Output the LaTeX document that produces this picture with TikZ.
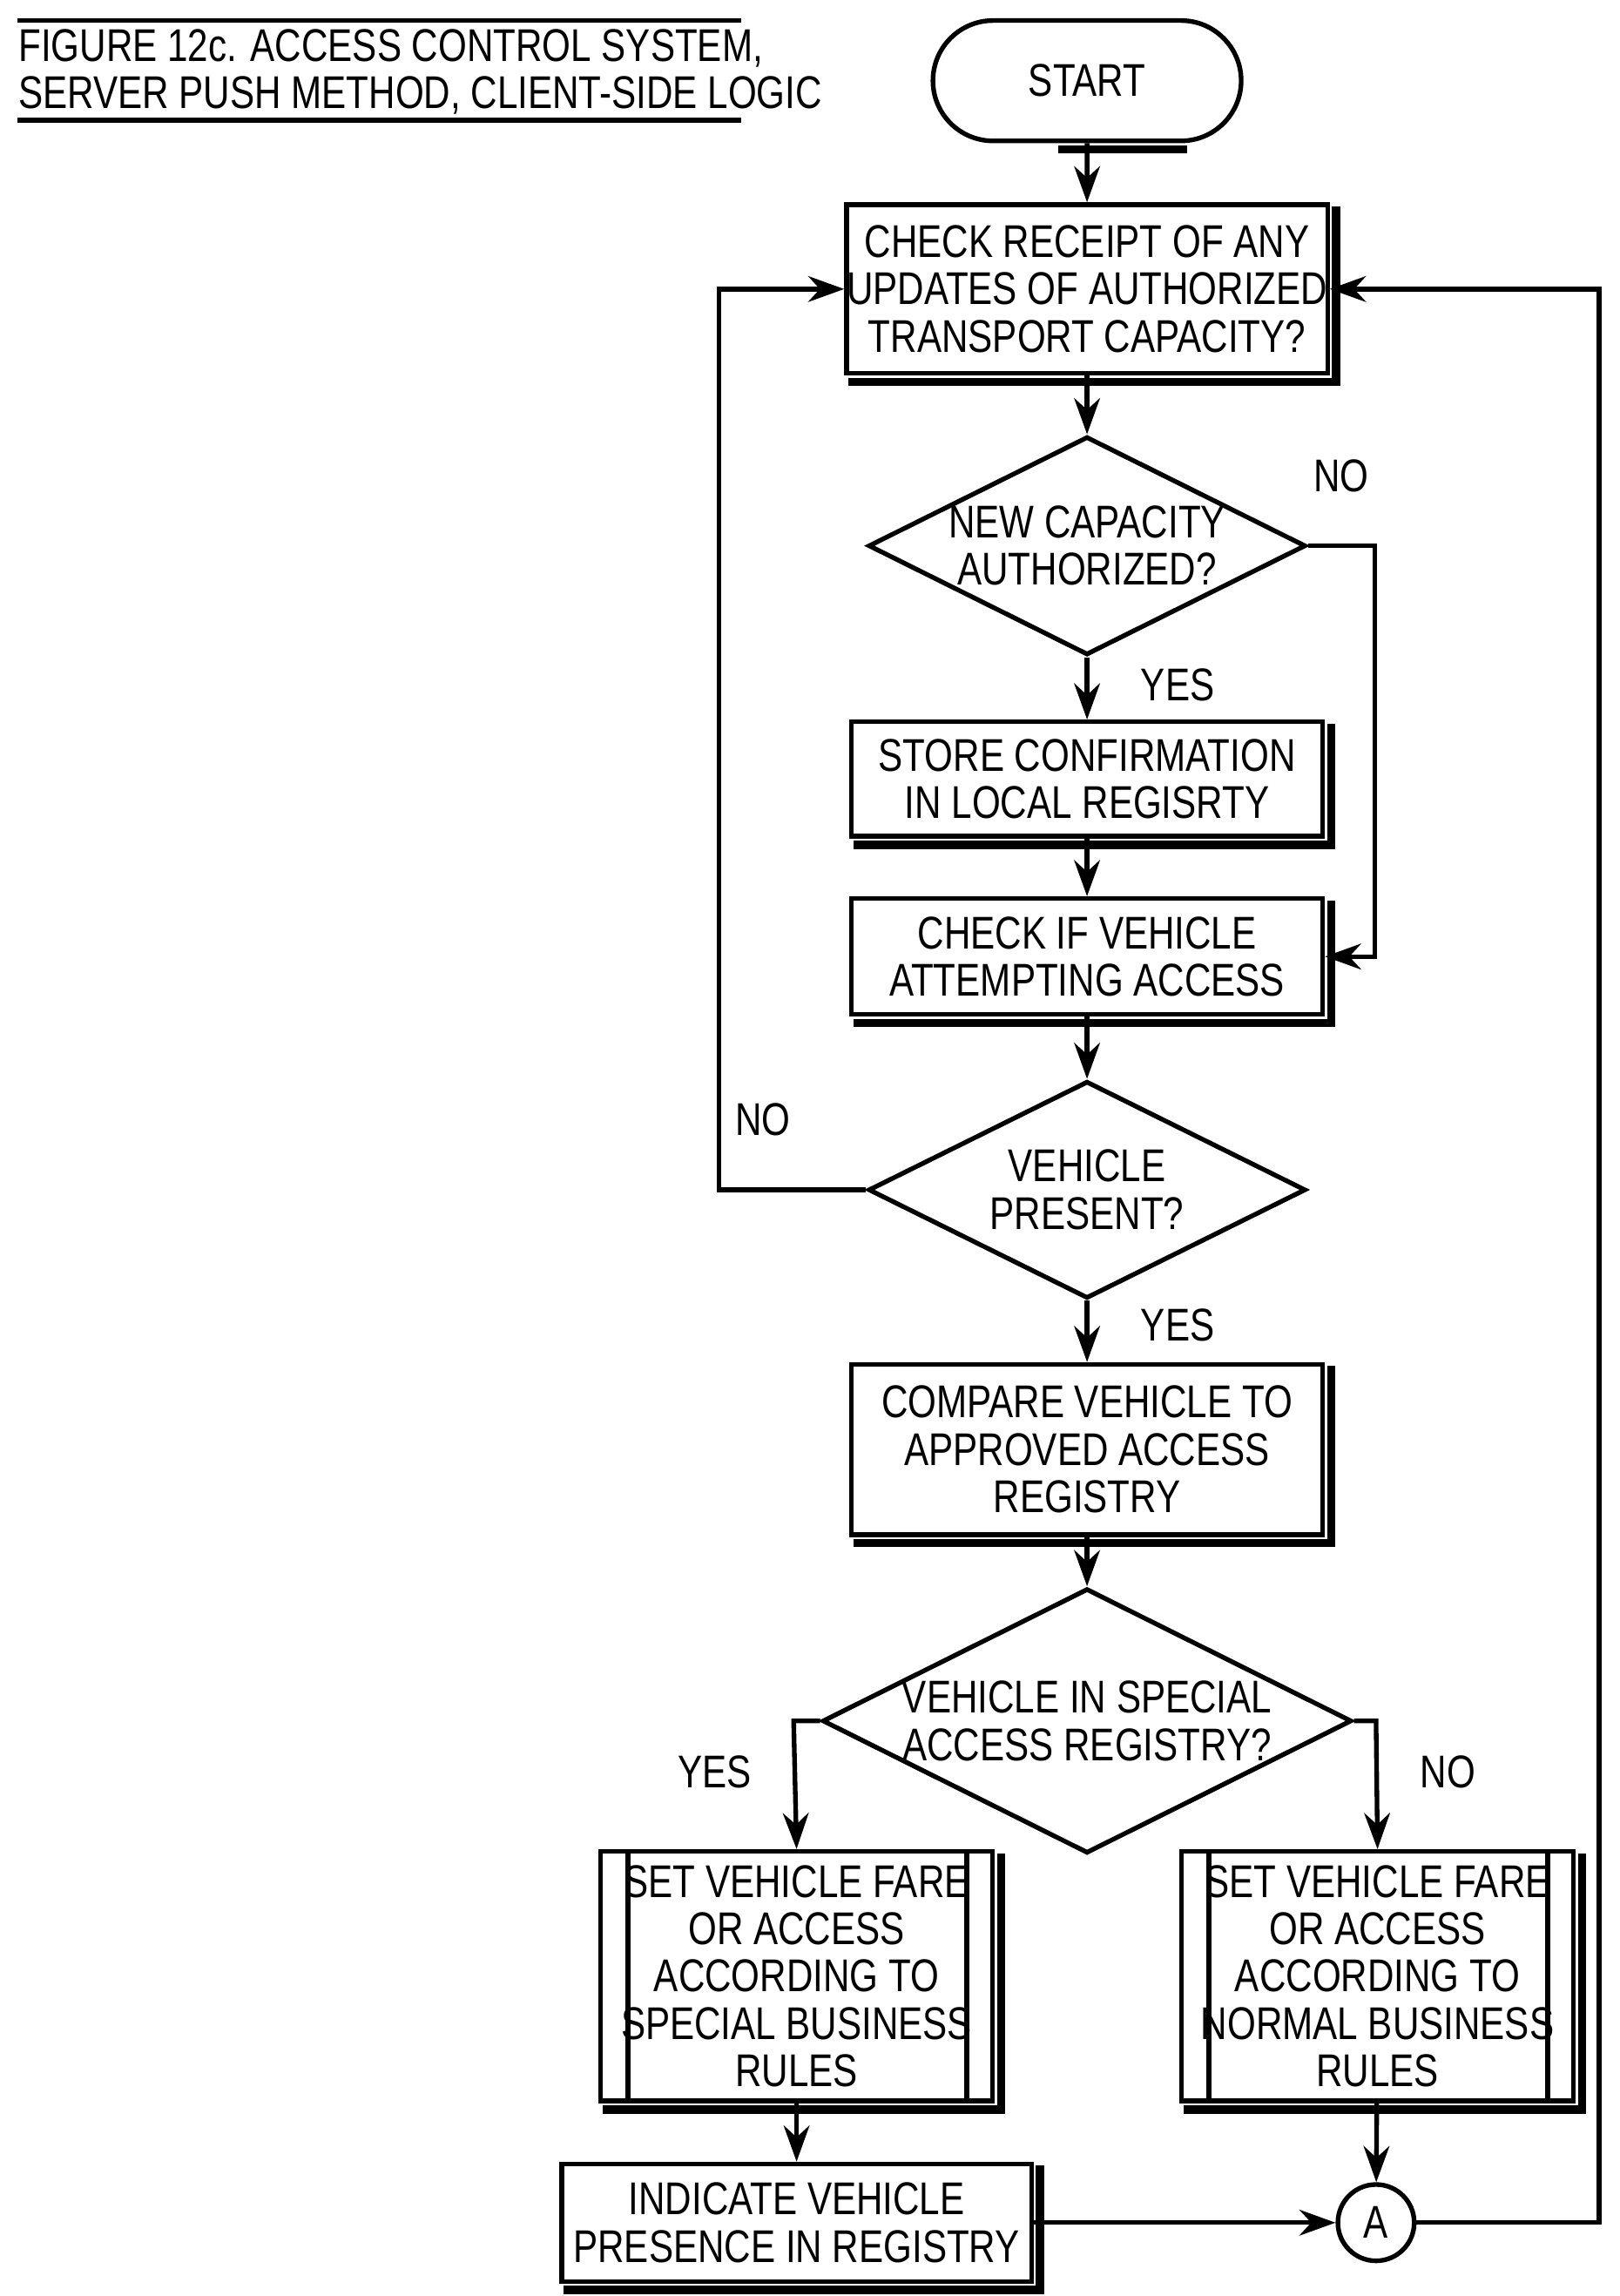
\documentclass[tikz,border=0pt]{standalone}
\usepackage{fontspec}
\setmainfont[FakeStretch=0.80]{Liberation Sans}
\usetikzlibrary{shapes.geometric,shapes.misc,arrows.meta}
\begin{document}
\begin{tikzpicture}[x=0.01cm,y=-0.01cm,
  every node/.style={font=\fontsize{8.9}{9.2}\selectfont,align=center,inner sep=0pt},
  box/.style={draw,line width=0.9pt,rectangle},
  dia/.style={draw,line width=0.9pt,diamond,aspect=2},
  line/.style={line width=0.9pt},
  arr/.style={line width=0.9pt,-{Stealth[length=7pt,width=5pt]}},
  lbl/.style={}]
\useasboundingbox (0,0) rectangle (1104,1565);
\newcommand{\shd}[1]{\draw[line width=1.6pt] ([xshift=1.2pt,yshift=-0.8pt]#1.north east) -- ([xshift=1.2pt,yshift=-1.2pt]#1.south east) -- ([xshift=0.8pt,yshift=-1.2pt]#1.south west);}
\node[lbl,anchor=west] (t1) at (12,33) {FIGURE 12c. ACCESS CONTROL SYSTEM,};
\node[lbl,anchor=west] (t2) at (12,65) {SERVER PUSH METHOD, CLIENT-SIDE LOGIC};
\draw[line] (12,14) -- (505,14);
\draw[line] (12,82) -- (505,82);
\node[draw,line width=0.9pt,rounded rectangle,minimum width=210\pgflinewidth*0+2.1cm,minimum height=0.82cm] (start) at (741,55) {START};
\draw[line width=1.6pt] ([xshift=1.2pt,yshift=-1.2pt]start.south west) ++(0.4cm,0) -- ([xshift=1.2pt,yshift=-1.2pt]start.south east) ++(-0.4cm,0);
\node[box,minimum width=3.21cm,minimum height=1.15cm] (b1) at (741,197) {CHECK RECEIPT OF ANY\\UPDATES OF AUTHORIZED\\TRANSPORT CAPACITY?};\shd{b1}
\node[dia,minimum width=2.98cm,minimum height=1.48cm] (d1) at (741,372) {NEW CAPACITY\\AUTHORIZED?};
\node[box,minimum width=3.21cm,minimum height=0.78cm] (b2) at (741,531) {STORE CONFIRMATION\\IN LOCAL REGISRTY};\shd{b2}
\node[box,minimum width=3.21cm,minimum height=0.79cm] (b3) at (741,652) {CHECK IF VEHICLE\\ATTEMPTING ACCESS};\shd{b3}
\node[dia,minimum width=2.98cm,minimum height=1.48cm] (d2) at (741,811) {VEHICLE\\PRESENT?};
\node[box,minimum width=3.21cm,minimum height=1.16cm] (b4) at (741,988) {COMPARE VEHICLE TO\\APPROVED ACCESS\\REGISTRY};\shd{b4}
\node[dia,minimum width=3.46cm,minimum height=1.70cm] (d3) at (741,1173) {VEHICLE IN SPECIAL\\ACCESS REGISTRY?};
\node[box,minimum width=2.67cm,minimum height=1.70cm] (b5) at (543,1347) {SET VEHICLE FARE\\OR ACCESS\\ACCORDING TO\\SPECIAL BUSINESS\\RULES};\shd{b5}
\draw[line] (428,1262) -- (428,1432) (659,1262) -- (659,1432);
\node[box,minimum width=2.67cm,minimum height=1.70cm] (b6) at (939,1347) {SET VEHICLE FARE\\OR ACCESS\\ACCORDING TO\\NORMAL BUSINESS\\RULES};\shd{b6}
\draw[line] (824,1262) -- (824,1432) (1055,1262) -- (1055,1432);
\node[box,minimum width=3.20cm,minimum height=0.80cm] (b7) at (543,1515) {INDICATE VEHICLE\\PRESENCE IN REGISTRY};\shd{b7}
\node[draw,line width=0.9pt,circle,minimum size=0.52cm] (A) at (938,1515) {A};
\draw[arr] (start) -- (b1);
\draw[arr] (b1) -- (d1);
\draw[arr] (d1) -- (b2) node[pos=0.45,right=10pt] {YES};
\draw[arr] (b2) -- (b3);
\draw[arr] (d1.east) -- (937,372) node[pos=0.5,above=10pt] {NO} -- (937,652) -- (b3.east);
\draw[arr] (b3) -- (d2);
\draw[arr] (d2.west) -- (490,811) node[pos=0.7,above=10pt] {NO} -- (490,197) -- (b1.west);
\draw[arr] (d2) -- (b4) node[pos=0.4,right=10pt] {YES};
\draw[arr] (b4) -- (d3);
\draw[arr] (d3.west) -- (541,1173) -- (b5.north) node[pos=0.4,left=8pt] {YES};
\draw[arr] (d3.east) -- (938,1173) -- (b6.north) node[pos=0.4,right=8pt] {NO};
\draw[arr] (b5) -- (b7);
\draw[arr] (b6) -- (A);
\draw[arr] (b7) -- (A);
\draw[arr] (A.east) -- (1090,1515) -- (1090,197) -- (b1.east);
\end{tikzpicture}
\end{document}
